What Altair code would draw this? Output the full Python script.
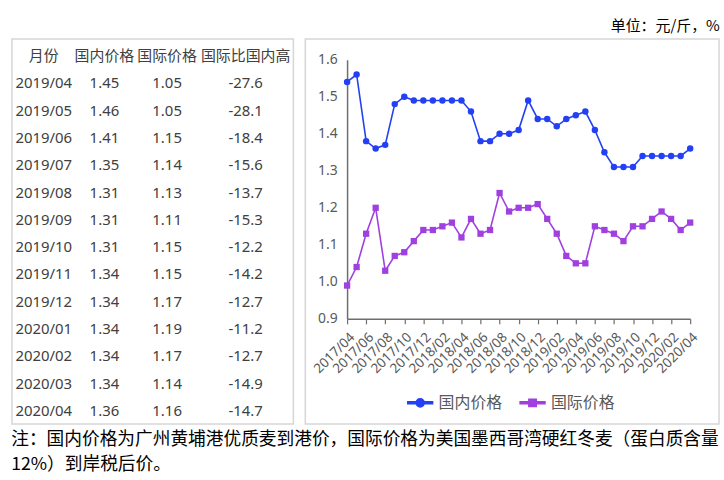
import altair as alt
import pandas as pd

# ---------------- data ----------------
months = ["2017/04", "2017/05", "2017/06", "2017/07", "2017/08", "2017/09", "2017/10",
          "2017/11", "2017/12", "2018/01", "2018/02", "2018/03", "2018/04", "2018/05",
          "2018/06", "2018/07", "2018/08", "2018/09", "2018/10", "2018/11", "2018/12",
          "2019/01", "2019/02", "2019/03", "2019/04", "2019/05", "2019/06", "2019/07",
          "2019/08", "2019/09", "2019/10", "2019/11", "2019/12", "2020/01", "2020/02",
          "2020/03", "2020/04"]
domestic = [1.54, 1.56, 1.38, 1.36, 1.37, 1.48, 1.50, 1.49, 1.49, 1.49, 1.49, 1.49, 1.49,
            1.46, 1.38, 1.38, 1.40, 1.40, 1.41, 1.49, 1.44, 1.44, 1.42, 1.44, 1.45, 1.46,
            1.41, 1.35, 1.31, 1.31, 1.31, 1.34, 1.34, 1.34, 1.34, 1.34, 1.36]
international = [0.99, 1.04, 1.13, 1.20, 1.03, 1.07, 1.08, 1.11, 1.14, 1.14, 1.15, 1.16, 1.12,
                 1.17, 1.13, 1.14, 1.24, 1.19, 1.20, 1.20, 1.21, 1.17, 1.13, 1.07, 1.05, 1.05,
                 1.15, 1.14, 1.13, 1.11, 1.15, 1.15, 1.17, 1.19, 1.17, 1.14, 1.16]
series_names = ["国内价格", "国际价格"]
x_tick_labels = ["2017/04", "2017/06", "2017/08", "2017/10", "2017/12", "2018/02", "2018/04",
                 "2018/06", "2018/08", "2018/10", "2018/12", "2019/02", "2019/04", "2019/06",
                 "2019/08", "2019/10", "2019/12", "2020/02", "2020/04"]
y_ticks = [0.9, 1.0, 1.1, 1.2, 1.3, 1.4, 1.5, 1.6]

tbl_headers = ["月份", "国内价格", "国际价格", "国际比国内高"]
tbl_month = ["2019/04", "2019/05", "2019/06", "2019/07", "2019/08", "2019/09", "2019/10",
             "2019/11", "2019/12", "2020/01", "2020/02", "2020/03", "2020/04"]
tbl_dom = ["1.45", "1.46", "1.41", "1.35", "1.31", "1.31", "1.31", "1.34", "1.34", "1.34",
           "1.34", "1.34", "1.36"]
tbl_int = ["1.05", "1.05", "1.15", "1.14", "1.13", "1.11", "1.15", "1.15", "1.17", "1.19",
           "1.17", "1.14", "1.16"]
tbl_diff = ["-27.6", "-28.1", "-18.4", "-15.6", "-13.7", "-15.3", "-12.2", "-14.2", "-12.7",
            "-11.2", "-12.7", "-14.9", "-14.7"]

unit_text = "单位：元/斤，%"
note_lines = ["注：国内价格为广州黄埔港优质麦到港价，国际价格为美国墨西哥湾硬红冬麦（蛋白质含量",
              "12%）到岸税后价。"]

# ---------------- styling ----------------
BLUE = "#2340f5"
PURPLE = "#a040e0"
FONT = "Noto Sans, Noto Sans CJK SC"
CJK = "Noto Sans CJK SC"
GREY = "#595959"
PANEL_H = 387
TBL_W = 283
CH_W = 416

# ---------------- table panel ----------------
rows = []
cols_data = [tbl_month, tbl_dom, tbl_int, tbl_diff]
for h, col in zip(tbl_headers, cols_data):
    rows.append({"row": 0, "col": h, "text": h})
    for r, v in enumerate(col):
        rows.append({"row": r + 1, "col": h, "text": v})
tbl_df = pd.DataFrame(rows)

xcol = alt.X("col:N",
             scale=alt.Scale(type="point", domain=tbl_headers, range=[32, 235], padding=0),
             axis=None)
yrow = alt.Y("row:O",
             scale=alt.Scale(type="point", domain=list(range(14)), range=[17, 374], padding=0),
             axis=None)
col_dx = [0, -6.7, -11.3, 0]
tbl_layers = []
for h, dx in zip(tbl_headers, col_dx):
    tbl_layers.append(
        alt.Chart(tbl_df)
        .transform_filter(alt.datum.col == h)
        .mark_text(font=FONT, fontSize=15, color="#404040", dx=dx,
                   baseline="middle", align="center")
        .encode(x=xcol, y=yrow, text="text:N")
    )
table = alt.layer(*tbl_layers).properties(width=TBL_W, height=PANEL_H)

# ---------------- line chart panel ----------------
line_df = pd.DataFrame({
    "month": months + months,
    "value": domestic + international,
    "series": [series_names[0]] * len(months) + [series_names[1]] * len(months),
})
legend_df = pd.DataFrame({"series": series_names})

# legend glyphs "-●-" and "-■-" built from filled pieces (unit box -1..1)
path_c = ("M-1,-0.08H-0.3V0.08H-1Z M0.3,-0.08H1V0.08H0.3Z "
          "M0.33,0A0.33,0.33,0,1,1,-0.33,0A0.33,0.33,0,1,1,0.33,0Z")
path_s = ("M-1,-0.08H-0.3V0.08H-1Z M0.3,-0.08H1V0.08H0.3Z "
          "M-0.3,-0.3H0.3V0.3H-0.3Z")
legend = alt.Legend(
    orient="none", legendX=397, legendY=352, direction="horizontal", title=None,
    labelFont=CJK, labelFontSize=16, labelColor=GREY, symbolSize=625,
    labelOffset=5, columnPadding=14, padding=0, symbolOpacity=1,
)

color = alt.Color("series:N", scale=alt.Scale(domain=series_names, range=[BLUE, PURPLE]),
                  legend=legend)
x = alt.X("month:N", sort=months,
          scale=alt.Scale(type="point", domain=months, range=[42, 387], padding=0),
          axis=alt.Axis(values=x_tick_labels, labelAngle=-45, offset=-105.7, title=None,
                        labelFont="Noto Sans", labelFontSize=13.5, labelColor=GREY,
                        domainColor="#6e6e6e", domainWidth=1.5, tickColor="#6e6e6e",
                        tickSize=5, tickWidth=1.2, labelPadding=6, grid=False))
y = alt.Y("value:Q",
          scale=alt.Scale(domain=[0.9, 1.6], range=[281.3, 20.7], zero=False, nice=False),
          axis=alt.Axis(values=y_ticks, format=".1f", ticks=False, offset=-42, title=None,
                        labelFont="Noto Sans", labelFontSize=14, labelColor=GREY,
                        labelPadding=10, domainColor="#6e6e6e", domainWidth=1.5, grid=False))

lines = alt.Chart(line_df).mark_line(strokeWidth=1.6).encode(
    x=x, y=y, color=color, detail="series:N")
pts_dom = (alt.Chart(line_df).transform_filter(alt.datum.series == series_names[0])
           .mark_point(filled=True, size=42, opacity=1, shape="circle")
           .encode(x=x, y=y, color=color))
pts_int = (alt.Chart(line_df).transform_filter(alt.datum.series == series_names[1])
           .mark_point(filled=True, size=40, opacity=1, shape="square")
           .encode(x=x, y=y, color=color))
legend_layer = (alt.Chart(legend_df).transform_filter("false")
                .mark_point(filled=True, opacity=1)
                .encode(color=color,
                        shape=alt.Shape("series:N",
                                        scale=alt.Scale(domain=series_names,
                                                        range=[path_c, path_s]),
                                        legend=None)))
chart = alt.layer(pts_dom, pts_int, lines, legend_layer).properties(width=CH_W, height=PANEL_H)

# ---------------- composition ----------------
top = alt.hconcat(table, chart, spacing=10).properties(
    title=alt.TitleParams(unit_text, anchor="end", font=CJK, fontSize=15,
                          fontWeight="normal", color="#000000", offset=4))
full = alt.vconcat(top).properties(
    title=alt.TitleParams(note_lines, orient="bottom", anchor="start", font=CJK,
                          fontSize=17.8, fontWeight="normal", color="#000000",
                          lineHeight=26, offset=6),
    padding={"left": 11, "top": 18, "right": 4, "bottom": 4},
).configure_view(stroke="#d6d6d6", strokeWidth=1.5)

full.save("out.html", embed_options={"renderer": "svg", "actions": False})
